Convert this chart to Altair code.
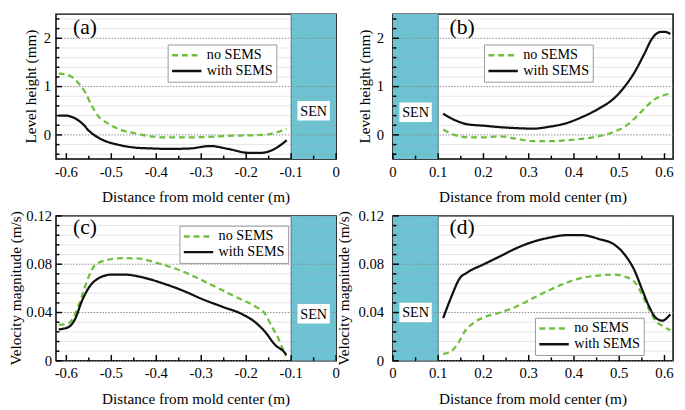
import altair as alt
import pandas as pd

FONT = "Liberation Serif"
GREEN = "#6dbf3e"
BLACK = "#111111"
TEAL = "#6ec3d3"
W, H = 286, 148

SERIES = ["no SEMS", "with SEMS"]

# ---------------- (a) level height, left side ----------------
a_no_x = [-0.617, -0.6, -0.588, -0.576, -0.558, -0.543, -0.53, -0.508, -0.478, -0.45,
          -0.412, -0.38, -0.33, -0.28, -0.24, -0.2, -0.16, -0.13, -0.11]
a_no_y = [1.27, 1.25, 1.2, 1.1, 0.88, 0.6, 0.4, 0.24, 0.1, 0.04,
          -0.03, -0.05, -0.05, -0.04, -0.02, -0.01, 0.0, 0.06, 0.12]
a_w_x = [-0.617, -0.6, -0.587, -0.565, -0.548, -0.52, -0.486, -0.45, -0.41, -0.37,
         -0.325, -0.28, -0.24, -0.195, -0.166, -0.137, -0.11]
a_w_y = [0.4, 0.4, 0.37, 0.24, 0.07, -0.1, -0.2, -0.26, -0.28, -0.29,
         -0.28, -0.23, -0.29, -0.37, -0.37, -0.29, -0.11]

# ---------------- (b) level height, right side ----------------
b_no_x = [0.111, 0.136, 0.165, 0.201, 0.237, 0.273, 0.31, 0.346, 0.382, 0.418,
          0.454, 0.49, 0.512, 0.534, 0.555, 0.577, 0.598, 0.616]
b_no_y = [0.11, 0.0, -0.05, -0.05, -0.03, -0.08, -0.13, -0.13, -0.11, -0.08,
          -0.03, 0.07, 0.17, 0.34, 0.54, 0.73, 0.82, 0.86]
b_w_x = [0.111, 0.136, 0.165, 0.201, 0.237, 0.273, 0.31, 0.346, 0.382, 0.418,
         0.454, 0.49, 0.512, 0.534, 0.555, 0.573, 0.591, 0.602, 0.613]
b_w_y = [0.44, 0.31, 0.22, 0.19, 0.16, 0.14, 0.13, 0.17, 0.24, 0.37,
         0.54, 0.77, 1.0, 1.3, 1.67, 2.0, 2.13, 2.13, 2.09]

# ---------------- (c) velocity, left side ----------------
c_no_x = [-0.617, -0.595, -0.58, -0.566, -0.551, -0.537, -0.515, -0.478, -0.442, -0.398,
          -0.355, -0.311, -0.267, -0.224, -0.18, -0.158, -0.144, -0.129, -0.118, -0.111]
c_no_y = [0.0298, 0.031, 0.039, 0.053, 0.069, 0.079, 0.083, 0.085, 0.0848, 0.081,
          0.076, 0.069, 0.061, 0.053, 0.045, 0.039, 0.029, 0.019, 0.0093, 0.004]
c_w_x = [-0.617, -0.595, -0.58, -0.566, -0.551, -0.53, -0.5, -0.471, -0.427, -0.384,
         -0.34, -0.297, -0.253, -0.209, -0.18, -0.158, -0.136, -0.114, -0.111]
c_w_y = [0.026, 0.028, 0.035, 0.049, 0.06, 0.068, 0.0714, 0.0714, 0.0688, 0.064,
         0.058, 0.051, 0.0448, 0.0386, 0.032, 0.024, 0.0133, 0.0066, 0.005]

# ---------------- (d) velocity, right side ----------------
d_no_x = [0.111, 0.129, 0.144, 0.158, 0.18, 0.201, 0.237, 0.273, 0.31, 0.346,
          0.382, 0.418, 0.454, 0.49, 0.512, 0.534, 0.551, 0.566, 0.58, 0.598, 0.613]
d_no_y = [0.0058, 0.008, 0.0146, 0.024, 0.032, 0.036, 0.04, 0.045, 0.052, 0.0586,
          0.0645, 0.0688, 0.0706, 0.0714, 0.0698, 0.0653, 0.0546, 0.0426, 0.0333, 0.0285, 0.0253]
d_w_x = [0.111, 0.129, 0.147, 0.165, 0.201, 0.237, 0.273, 0.31, 0.346, 0.382,
         0.418, 0.454, 0.49, 0.512, 0.534, 0.551, 0.566, 0.58, 0.595, 0.613]
d_w_y = [0.0354, 0.053, 0.068, 0.0733, 0.08, 0.0866, 0.0933, 0.0986, 0.102, 0.104,
         0.104, 0.101, 0.096, 0.088, 0.0746, 0.0586, 0.045, 0.036, 0.0333, 0.0386]

# ---------------- ticks and tick labels ----------------
x_left_major = [-0.6, -0.5, -0.4, -0.3, -0.2, -0.1, 0.0]
x_left_labels = ["-0.6", "-0.5", "-0.4", "-0.3", "-0.2", "-0.1", "0"]
x_left_minor = [-0.55, -0.45, -0.35, -0.25, -0.15, -0.05]
x_right_major = [0.0, 0.1, 0.2, 0.3, 0.4, 0.5, 0.6]
x_right_labels = ["0", "0.1", "0.2", "0.3", "0.4", "0.5", "0.6"]
x_right_minor = [0.05, 0.15, 0.25, 0.35, 0.45, 0.55]
lvl_major = [0, 1, 2]
lvl_labels = ["0", "1", "2"]
lvl_minor = [-0.4, -0.2, 0.2, 0.4, 0.6, 0.8, 1.2, 1.4, 1.6, 1.8, 2.2, 2.4]
vel_major = [0, 0.04, 0.08, 0.12]
vel_labels = ["0", "0.04", "0.08", "0.12"]
vel_minor = [0.008, 0.016, 0.024, 0.032, 0.048, 0.056, 0.064, 0.072,
             0.088, 0.096, 0.104, 0.112]

X_TITLE = "Distance from mold center (m)"
LVL_TITLE = "Level height (mm)"
VEL_TITLE = "Velocity magnitude (m/s)"

TICK_FS = 15
TITLE_FS = 15.5


def line_df(xn, yn, xw, yw):
    return pd.DataFrame({
        "x": xn + xw,
        "y": yn + yw,
        "s": [SERIES[0]] * len(xn) + [SERIES[1]] * len(xw),
        "o": list(range(len(xn))) + list(range(len(xw))),
    })


def panel(df, xdom, ydom, xmaj, xlab, xmin, ymaj, ylab, ymin, ytitle,
          ylab_gap, ytitle_off, sen, sen_edge, sen_lbl, letter, letter_pos, legend_pos):
    X = alt.X("x:Q", scale=alt.Scale(domain=xdom, nice=False, zero=False), axis=None)
    Y = alt.Y("y:Q", scale=alt.Scale(domain=ydom, nice=False, zero=False), axis=None)

    sen_rect = alt.Chart(pd.DataFrame({"x": [sen[0]], "x2": [sen[1]],
                                       "y": [ydom[0]], "y2": [ydom[1]]})).mark_rect(
        color=TEAL).encode(x=X, x2="x2:Q", y=Y, y2="y2:Q")
    sen_border = alt.Chart(pd.DataFrame({"x": [sen_edge]})).mark_rule(
        color="#4f7a83", strokeWidth=1).encode(x=X)

    grid_minor = alt.Chart(pd.DataFrame({"y": ymin})).mark_rule(
        color="#999999", opacity=0.25, strokeWidth=1).encode(y=Y)
    grid_major = alt.Chart(pd.DataFrame({"y": ymaj})).mark_rule(
        color="#8a8a8a", strokeWidth=1, strokeDash=[1.5, 1.5]).encode(y=Y)

    leg = alt.Legend(orient="none", legendX=legend_pos[0], legendY=legend_pos[1],
                     fillColor="white", strokeColor="#9a9a9a", padding=3,
                     symbolType="stroke", symbolSize=900, symbolStrokeWidth=2.5,
                     labelFont=FONT, labelFontSize=14.5, labelColor="black",
                     clipHeight=16, rowPadding=0, labelOffset=4, labelLimit=200)
    lines = alt.Chart(df).mark_line(strokeWidth=2.3, interpolate="monotone").encode(
        x=X, y=Y,
        color=alt.Color("s:N", title=None,
                        scale=alt.Scale(domain=SERIES, range=[GREEN, BLACK]), legend=leg),
        strokeDash=alt.StrokeDash("s:N", title=None,
                                  scale=alt.Scale(domain=SERIES, range=[[6, 4], [1, 0]]),
                                  legend=leg),
        order="o:Q",
    )

    yt_major = alt.Chart(pd.DataFrame({"y": ymaj})).mark_rule(
        color="black", strokeWidth=1.5).encode(y=Y, x=alt.value(0), x2=alt.value(6))
    yt_minor = alt.Chart(pd.DataFrame({"y": ymin})).mark_rule(
        color="black", strokeWidth=1.5).encode(y=Y, x=alt.value(0), x2=alt.value(3.5))
    xt_major = alt.Chart(pd.DataFrame({"x": xmaj})).mark_rule(
        color="black", strokeWidth=1.5).encode(x=X, y=alt.value(H), y2=alt.value(H - 6))
    xt_minor = alt.Chart(pd.DataFrame({"x": xmin})).mark_rule(
        color="black", strokeWidth=1.5).encode(x=X, y=alt.value(H), y2=alt.value(H - 3.5))

    # tick labels and axis titles
    xl = alt.Chart(pd.DataFrame({"x": xmaj, "t": xlab})).mark_text(
        font=FONT, fontSize=TICK_FS, color="black", baseline="middle").encode(
        x=X, y=alt.value(H + 13), text="t:N")
    yl = alt.Chart(pd.DataFrame({"y": ymaj, "t": ylab})).mark_text(
        font=FONT, fontSize=TICK_FS, color="black", align="right", baseline="middle").encode(
        y=Y, x=alt.value(-ylab_gap), text="t:N")
    xtitle = alt.Chart(pd.DataFrame({"t": [X_TITLE]})).mark_text(
        font=FONT, fontSize=TITLE_FS, color="black", baseline="middle").encode(
        x=alt.value(W / 2), y=alt.value(H + 39), text="t:N")
    ytitle_m = alt.Chart(pd.DataFrame({"t": [ytitle]})).mark_text(
        font=FONT, fontSize=TITLE_FS, color="black", baseline="middle", angle=270).encode(
        x=alt.value(-ytitle_off), y=alt.value(H / 2), text="t:N")

    lbl_df = pd.DataFrame({"x": [sen_lbl[0]], "y": [sen_lbl[1]], "t": ["SEN"]})
    lbl_box = alt.Chart(lbl_df).mark_point(
        shape="M-1,-0.6L1,-0.6L1,0.6L-1,0.6Z", size=1089, filled=True,
        fill="white", opacity=1, strokeWidth=0).encode(x=X, y=Y)
    lbl_txt = alt.Chart(lbl_df).mark_text(
        font=FONT, fontSize=14.5, color="black", baseline="middle", dy=1).encode(
        x=X, y=Y, text="t:N")

    let_df = pd.DataFrame({"x": [letter_pos[0]], "y": [letter_pos[1]], "t": [letter]})
    let_txt = alt.Chart(let_df).mark_text(
        font=FONT, fontSize=22, color="black", align="left", baseline="middle").encode(
        x=X, y=Y, text="t:N")

    return alt.layer(sen_rect, sen_border, grid_minor, grid_major, lines,
                     yt_major, yt_minor, xt_major, xt_minor,
                     xl, yl, xtitle, ytitle_m,
                     lbl_box, lbl_txt, let_txt).properties(width=W, height=H)


pa = panel(line_df(a_no_x, a_no_y, a_w_x, a_w_y), [-0.623, 0.0], [-0.5, 2.5],
           x_left_major, x_left_labels, x_left_minor, lvl_major, lvl_labels, lvl_minor,
           LVL_TITLE, 5, 25,
           (-0.1, 0.0), -0.1, (-0.05, 0.5), "(a)", (-0.585, 2.24), (114, 31))
pb = panel(line_df(b_no_x, b_no_y, b_w_x, b_w_y), [0.0, 0.619], [-0.5, 2.5],
           x_right_major, x_right_labels, x_right_minor, lvl_major, lvl_labels, lvl_minor,
           LVL_TITLE, 9, 28,
           (0.0, 0.1), 0.1, (0.05, 0.47), "(b)", (0.125, 2.24), (93, 31))
pc = panel(line_df(c_no_x, c_no_y, c_w_x, c_w_y), [-0.623, 0.0], [0.0, 0.12],
           x_left_major, x_left_labels, x_left_minor, vel_major, vel_labels, vel_minor,
           VEL_TITLE, 4, 41,
           (-0.1, 0.0), -0.1, (-0.05, 0.039), "(c)", (-0.585, 0.1106), (126, 10))
pd_ = panel(line_df(d_no_x, d_no_y, d_w_x, d_w_y), [0.0, 0.619], [0.0, 0.12],
            x_right_major, x_right_labels, x_right_minor, vel_major, vel_labels, vel_minor,
            VEL_TITLE, 9, 50,
            (0.0, 0.1), 0.1, (0.05, 0.04), "(d)", (0.125, 0.1106), (145, 104))

chart = alt.concat(pa, pb, pc, pd_, columns=2, spacing=58, bounds="flush").resolve_scale(
    color="independent", strokeDash="independent"
).configure_view(stroke="black", strokeWidth=1.5).properties(
    padding=0, background="white")

chart.save("out.html", embed_options={"renderer": "svg", "actions": False})
